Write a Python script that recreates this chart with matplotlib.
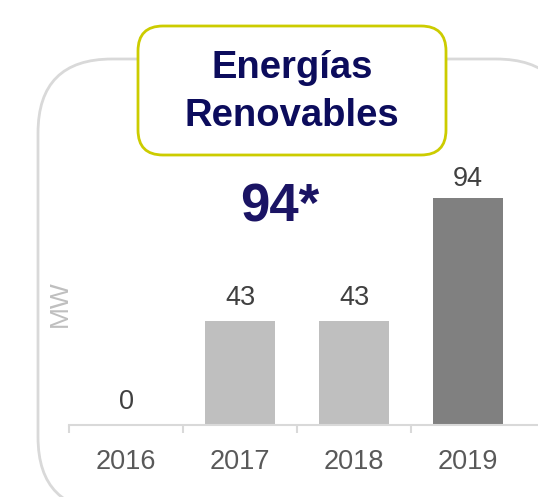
import matplotlib
matplotlib.use("Agg")
import matplotlib.pyplot as plt
from matplotlib.patches import FancyBboxPatch

years = ["2016", "2017", "2018", "2019"]
values = [0, 43, 43, 94]
bar_colors = ["#BFBFBF", "#BFBFBF", "#BFBFBF", "#808080"]
label_offsets_pt = [11.5, 11.5, 11.5, 8.7]
title_lines = ["Energías", "Renovables"]
highlight = "94*"
ylabel = "MW"

W, H = 538, 497
fig = plt.figure(figsize=(W / 100, H / 100), dpi=100)
plt.rcParams['font.family'] = ['Liberation Sans', 'DejaVu Sans']

# background axes in pixel coordinates
bg = fig.add_axes([0, 0, 1, 1])
bg.set_xlim(0, W)
bg.set_ylim(H, 0)
bg.axis("off")

r = 74
ox0, oy0, ox1, oy1 = 38, 59, 570, 511
outer = FancyBboxPatch((ox0 + r, oy0 + r), (ox1 - ox0) - 2 * r, (oy1 - oy0) - 2 * r,
                       boxstyle=f"round,pad={r}", fc="white", ec="#D9D9D9", lw=2)
bg.add_patch(outer)

rt = 25
tx0, ty0, tx1, ty1 = 138, 26, 446, 155
tb = FancyBboxPatch((tx0 + rt, ty0 + rt), (tx1 - tx0) - 2 * rt, (ty1 - ty0) - 2 * rt,
                    boxstyle=f"round,pad={rt}", fc="white", ec="#CCCC00", lw=2, zorder=3)
bg.add_patch(tb)
bg.text(292, 68, title_lines[0], ha="center", va="center", fontsize=27.5,
        fontweight="bold", color="#0C0C5C", zorder=4)
bg.text(292, 116, title_lines[1], ha="center", va="center", fontsize=27.5,
        fontweight="bold", color="#0C0C5C", zorder=4)
bg.text(280, 222, highlight, ha="center", va="baseline", fontsize=38,
        fontweight="bold", color="#1B1464", zorder=4)

# bar chart axes
cat_px = 114
ax_left, ax_right = 69, 540
ax_bottom, ax_top = 425, 100
ax = fig.add_axes([ax_left / W, (H - ax_bottom) / H, (ax_right - ax_left) / W,
                   (ax_bottom - ax_top) / H])
ax.patch.set_alpha(0)
px_per_unit = 2.417
ax.set_ylim(0, (ax_bottom - ax_top) / px_per_unit)
ax.set_xlim(-0.5, -0.5 + (ax_right - ax_left) / cat_px)
x = list(range(len(years)))
ax.bar(x, values, width=0.61, color=bar_colors)
for xi, v, off in zip(x, values, label_offsets_pt):
    ax.annotate(str(v), (xi, v), xytext=(0, off), textcoords="offset points",
                ha="center", va="baseline", fontsize=19.5, color="#404040")

for s in ["top", "right", "left"]:
    ax.spines[s].set_visible(False)
ax.spines["bottom"].set_color("#D9D9D9")
ax.spines["bottom"].set_linewidth(1.5)
ax.set_yticks([])
ax.set_xticks(x)
ax.set_xticklabels(years, fontsize=19.5, color="#595959")
ax.tick_params(axis="x", which="major", length=0, pad=17)
ax.set_xticks([-0.5, 0.5, 1.5, 2.5], minor=True)
ax.tick_params(axis="x", which="minor", length=6, width=1.5, color="#D9D9D9")

fig.text(60 / W, 1 - 304 / H, ylabel, rotation=90, ha="center", va="center",
         fontsize=19, color="#BFBFBF")

fig.savefig("out.png", dpi=100)
